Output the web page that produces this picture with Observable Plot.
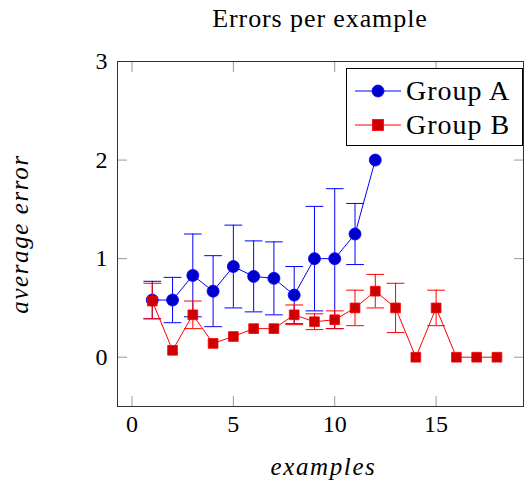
<!DOCTYPE html>
<html>
<head>
<meta charset="utf-8">
<script src="https://cdn.jsdelivr.net/npm/d3@7"></script>
<script src="https://cdn.jsdelivr.net/npm/@observablehq/plot@0.6"></script>
<style>
  body { margin: 0; background: white; }
  #wrap { position: relative; width: 524px; height: 481px; font-family: "Liberation Serif", serif; }
  #title { position: absolute; left: 117px; width: 406px; top: 4px; text-align: center; font-size: 26px; letter-spacing: 0.9px; color: #000; }
  #chart { position: absolute; left: 0; top: 40px; }
  #legend { position: absolute; left: 346px; top: 68px; width: 175px; height: 76px; border: 1px solid #000; background: white; font-size: 28px; letter-spacing: 1px; }
  .row { position: absolute; left: 0; height: 34px; display: flex; align-items: center; }
  .row svg { display: block; }
  .row span { margin-left: 3px; }
  .axtitle { letter-spacing: 1.6px; }
</style>
</head>
<body>
<div id="wrap">
  <div id="title"></div>
  <div id="chart"></div>
  <div id="legend">
    <div class="row" style="top:5px" id="legA"></div>
    <div class="row" style="top:39px" id="legB"></div>
  </div>
</div>
<script>
// ---- data ----
const groupNames = ["Group A", "Group B"];
const examplesA = [1, 2, 3, 4, 5, 6, 7, 8, 9, 10, 11, 12];
const errorA    = [0.58, 0.58, 0.83, 0.67, 0.92, 0.82, 0.80, 0.63, 1.0, 1.0, 1.25, 2.0];
const sdA       = [0.19, 0.23, 0.42, 0.36, 0.42, 0.36, 0.37, 0.29, 0.53, 0.71, 0.31, null];
const examplesB = [1, 2, 3, 4, 5, 6, 7, 8, 9, 10, 11, 12, 13, 14, 15, 16, 17, 18];
const errorB    = [0.57, 0.07, 0.43, 0.14, 0.21, 0.29, 0.29, 0.43, 0.36, 0.38, 0.50, 0.67, 0.50, 0, 0.50, 0, 0, 0];
const sdB       = [0.18, null, 0.14, null, null, null, null, 0.10, 0.08, 0.09, 0.18, 0.17, 0.25, null, 0.18, null, null, null];
const xTicks = [0, 5, 10, 15];
const yTicks = [0, 1, 2, 3];
const titleText = "Errors per example";
const xLabel = "examples";
const yLabel = "average error";

const A = examplesA.map((x, i) => ({x, y: errorA[i], sd: sdA[i]}));
const B = examplesB.map((x, i) => ({x, y: errorB[i], sd: sdB[i]}));
const Aerr = A.filter(d => d.sd != null);
const Berr = B.filter(d => d.sd != null);

const blue = "#0000ff", blueFill = "#0000cc";
const red = "#ff0000", redFill = "#cc0000";
const capSymbol = { draw(ctx, size) { const w = Math.sqrt(size); ctx.moveTo(-w, 0); ctx.lineTo(w, 0); } };

const font = "Liberation Serif, serif";
const fmt = d3.format("d");

const plot = Plot.plot({
  width: 524,
  height: 441,
  marginLeft: 117,
  marginRight: 1,
  marginTop: 21,
  marginBottom: 75,
  style: { fontFamily: font, fontSize: "24px", color: "#000", background: "white" },
  x: { domain: [-0.715, 19.31], ticks: xTicks },
  y: { domain: [-0.5, 3], ticks: yTicks },
  marks: [
    // ticks on all four sides (inside)
    Plot.axisX({ anchor: "bottom", ticks: xTicks, tickSize: -10, stroke: "#999", tickFormat: () => "", label: null }),
    Plot.axisX({ anchor: "top", ticks: xTicks, tickSize: -10, stroke: "#999", tickFormat: () => "", label: null }),
    Plot.axisY({ anchor: "left", ticks: yTicks, tickSize: -10, stroke: "#999", tickFormat: () => "", label: null }),
    Plot.axisY({ anchor: "right", ticks: yTicks, tickSize: -10, stroke: "#999", tickFormat: () => "", label: null }),
    // tick labels
    Plot.axisX({ anchor: "bottom", ticks: xTicks, tickSize: 0, tickPadding: 8, tickFormat: fmt, label: null, fontSize: 24 }),
    Plot.axisY({ anchor: "left", ticks: yTicks, tickSize: 0, tickPadding: 10, tickFormat: fmt, label: null, fontSize: 24 }),
    // Group A
    Plot.ruleX(Aerr, { x: "x", y1: d => d.y - d.sd, y2: d => d.y + d.sd, stroke: blue, strokeWidth: 1 }),
    Plot.dot(Aerr, { x: "x", y: d => d.y - d.sd, symbol: capSymbol, r: 5, stroke: blue, strokeWidth: 1 }),
    Plot.dot(Aerr, { x: "x", y: d => d.y + d.sd, symbol: capSymbol, r: 5, stroke: blue, strokeWidth: 1 }),
    Plot.line(A, { x: "x", y: "y", stroke: blue, strokeWidth: 1 }),
    Plot.dot(A, { x: "x", y: "y", r: 6, fill: blueFill, stroke: blue, strokeWidth: 0.8 }),
    // Group B
    Plot.ruleX(Berr, { x: "x", y1: d => d.y - d.sd, y2: d => d.y + d.sd, stroke: red, strokeWidth: 1 }),
    Plot.dot(Berr, { x: "x", y: d => d.y - d.sd, symbol: capSymbol, r: 5, stroke: red, strokeWidth: 1 }),
    Plot.dot(Berr, { x: "x", y: d => d.y + d.sd, symbol: capSymbol, r: 5, stroke: red, strokeWidth: 1 }),
    Plot.line(B, { x: "x", y: "y", stroke: red, strokeWidth: 1 }),
    Plot.dot(B, { x: "x", y: "y", symbol: "square", r: 5.5, fill: redFill, stroke: red, strokeWidth: 0.8 }),
    // frame
    Plot.frame({ stroke: "#333", strokeWidth: 1 }),
    // axis titles
    Plot.text([xLabel], { text: d => d, frameAnchor: "bottom", textAnchor: "middle", lineAnchor: "middle", dy: 60, dx: 3, fontStyle: "italic", fontSize: 25, className: "axtitle" }),
    Plot.text([yLabel], { text: d => d, frameAnchor: "left", textAnchor: "middle", lineAnchor: "middle", rotate: -90, dx: -98, fontStyle: "italic", fontSize: 25, className: "axtitle" })
  ]
});
document.getElementById("chart").appendChild(plot);
document.getElementById("title").textContent = titleText;

function legendRow(id, name, stroke, fill, shape) {
  const el = document.getElementById(id);
  const svg = d3.create("svg").attr("width", 56).attr("height", 34);
  svg.append("line").attr("x1", 8).attr("x2", 54).attr("y1", 17).attr("y2", 17).attr("stroke", stroke).attr("stroke-width", 1);
  if (shape === "circle") {
    svg.append("circle").attr("cx", 31).attr("cy", 17).attr("r", 6).attr("fill", fill).attr("stroke", stroke).attr("stroke-width", 0.8);
  } else {
    svg.append("rect").attr("x", 25.5).attr("y", 11.5).attr("width", 11).attr("height", 11).attr("fill", fill).attr("stroke", stroke).attr("stroke-width", 0.8);
  }
  el.appendChild(svg.node());
  const span = document.createElement("span");
  span.textContent = name;
  el.appendChild(span);
}
legendRow("legA", groupNames[0], blue, blueFill, "circle");
legendRow("legB", groupNames[1], red, redFill, "square");
</script>
</body>
</html>
